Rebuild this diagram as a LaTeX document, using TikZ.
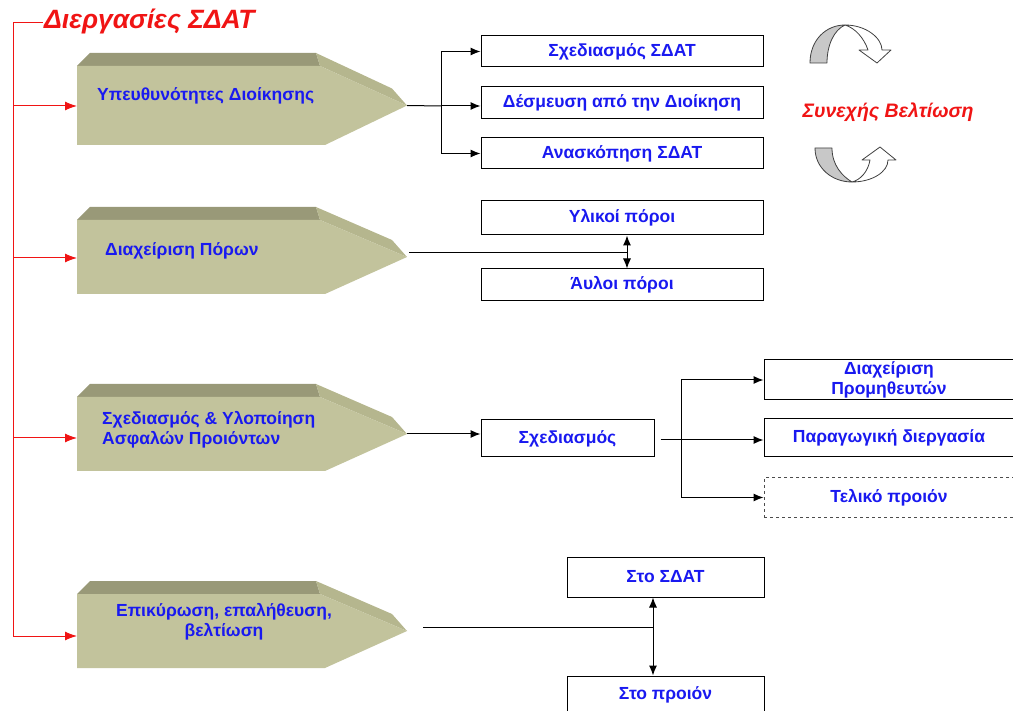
\documentclass[tikz,border=0pt]{standalone}
\usepackage{fontspec}
\setmainfont{Liberation Sans}
\usetikzlibrary{arrows.meta}

\definecolor{frontc}{RGB}{194,195,156}
\definecolor{topc}{RGB}{153,153,120}
\definecolor{sidec}{RGB}{181,182,142}
\definecolor{txtblue}{RGB}{25,25,240}
\definecolor{redc}{RGB}{240,20,20}
\definecolor{ribbon}{RGB}{200,200,200}

% one bevelled process block: name, top y, bottom y, y of the incoming red arrow
\newcommand\procbox[4]{%
  \pgfmathsetmacro\pbT{#2}\pgfmathsetmacro\pbB{#3}%
  \pgfmathsetmacro\pbM{(#2+#3)/2}%
  \pgfmathsetmacro\pbU{#2-13}\pgfmathsetmacro\pbS{\pbM-17}%
  \fill[topc] (77,\pbT) -- (90,\pbU) -- (316,\pbU) -- (320,\pbT) -- cycle;
  \fill[sidec] (316,\pbU) -- (392,\pbS) -- (407,\pbM) -- (320,\pbT) -- cycle;
  \fill[frontc] (77,\pbT) -- (320,\pbT) -- (407,\pbM) -- (325,\pbB) -- (77,\pbB) -- cycle;
  \coordinate (#1tip) at (407,\pbM);
  \coordinate (#1in) at (77,#4);
}

\tikzset{
  txt/.style={font=\bfseries\fontsize{17.5}{20}\selectfont, text=txtblue, inner sep=0pt},
  rbox/.style={txt, draw=black, line width=1pt, fill=white, align=center},
  dbox/.style={rbox, draw=black!70, dashed},
  conn/.style={draw=black, line width=1pt},
  arr/.style={conn, -{Latex[length=10pt,width=8pt]}},
  dblarr/.style={conn, {Latex[length=10pt,width=8pt]}-{Latex[length=10pt,width=8pt]}},
  redline/.style={draw=redc, line width=1pt},
  redarr/.style={redline, -{Latex[length=12pt,width=9pt]}},
  redtitle/.style={text=redc, inner sep=0pt, font=\bfseries\itshape},
  curv/.style={draw=black!75, line width=0.8pt, line join=round},
}

\begin{document}
\begin{tikzpicture}[x=1pt, y=-1pt]
\useasboundingbox (0,0) rectangle (1013,711);

% red spine and title
\coordinate (spTop) at (13,23);
\coordinate (spBot) at (13,636);
\coordinate (titleL) at (43,23);
\draw[redline] (spBot) -- (spTop) -- (titleL);
\node[redtitle, anchor=west, font=\bfseries\itshape\fontsize{26.5}{28}\selectfont] (title) at (44,21) {Διεργασίες ΣΔΑΤ};

% process blocks
\procbox{b1}{66}{145}{106}
\procbox{b2}{220}{294}{258}
\procbox{b3}{397}{471}{438}
\procbox{b4}{594}{668}{636}

\foreach \b in {b1,b2,b3,b4} \draw[redarr] (spTop |- \b in) -- (\b in);

\node[txt, anchor=west] (p1) at (97,96) {Υπευθυνότητες Διοίκησης};
\node[txt, anchor=west] (p2) at (105,251) {Διαχείριση Πόρων};
\node[txt, anchor=west, align=left] (p3) at (102,430) {Σχεδιασμός \& Υλοποίηση\\Ασφαλών Προιόντων};
\node[txt, align=center] (p4) at (224,622) {Επικύρωση, επαλήθευση,\\βελτίωση};

% management responsibilities
\node[rbox, minimum width=282pt, minimum height=31pt] (r1) at (622,51.5) {Σχεδιασμός ΣΔΑΤ};
\node[rbox, minimum width=282pt, minimum height=32pt] (r2) at (622,103) {Δέσμευση από την Διοίκηση};
\node[rbox, minimum width=282pt, minimum height=31pt] (r3) at (622,153.5) {Ανασκόπηση ΣΔΑΤ};
\coordinate (j1) at (441,106);
\draw[conn] (b1tip) -- (j1);
\draw[arr] (j1) |- (r1.west);
\draw[arr] (j1) -- (j1 -| r2.west);
\draw[arr] (j1) |- (r3.west);

% continual improvement
\node[redtitle, font=\bfseries\itshape\fontsize{19.5}{21}\selectfont] (ci) at (888,112) {Συνεχής Βελτίωση};
\filldraw[curv, fill=ribbon] (810,63) .. controls (810,40) and (826,25) .. (845,25)
  .. controls (834,30) and (827,45) .. (827,63) -- cycle;
\filldraw[curv, fill=white] (845,25) .. controls (866,25) and (882,38) .. (882,50)
  -- (891,50) -- (877,63) -- (859,50) -- (868,50)
  .. controls (864,38) and (855,28) .. (845,25) -- cycle;
\filldraw[curv, fill=ribbon] (815,148) .. controls (815,168) and (832,182) .. (852,182)
  .. controls (842,176) and (832,165) .. (832,148) -- cycle;
\filldraw[curv, fill=white] (852,182) .. controls (872,182) and (888,172) .. (888,160)
  -- (896,160) -- (880,147) -- (862,160) -- (870,160)
  .. controls (868,172) and (860,180) .. (852,182) -- cycle;

% resources
\node[rbox, minimum width=282pt, minimum height=34pt] (r4) at (622,218) {Υλικοί πόροι};
\node[rbox, minimum width=282pt, minimum height=32pt] (r5) at (622,285) {Άυλοι πόροι};
\coordinate (c2) at (409,253);
\coordinate (j2) at (627,253);
\draw[conn] (c2) -- (j2);
\draw[dblarr] (r4.south -| j2) -- (r5.north -| j2);

% design and realisation
\node[rbox, minimum width=173pt, minimum height=37pt] (s1) at (567.5,438.5) {Σχεδιασμός};
\draw[arr] (b3tip) -- (b3tip -| s1.west);
\node[rbox, minimum width=250pt, minimum height=40pt] (t1) at (889,380) {Διαχείριση\\Προμηθευτών};
\node[rbox, minimum width=250pt, minimum height=38pt] (t2) at (889,438) {Παραγωγική διεργασία};
\node[dbox, minimum width=250pt, minimum height=39pt] (t3) at (889,497.5) {Τελικό προιόν};
\coordinate (j3) at (681,440);
\draw[conn] ([xshift=6pt]s1.east |- j3) -- (j3);
\draw[arr] (j3) |- (t1.west);
\draw[arr] (j3) -- (j3 -| t2.west);
\draw[arr] (j3) |- (t3.west);

% validation, verification, improvement
\node[rbox, minimum width=197pt, minimum height=40pt] (u1) at (665.5,577) {Στο ΣΔΑΤ};
\node[rbox, minimum width=197pt, minimum height=48pt] (u2) at (665.5,700) {};
\node[txt] (u2t) at (665.5,695) {Στο προιόν};
\coordinate (c4) at (423,627);
\coordinate (j4) at (653,627);
\draw[conn] (c4) -- (j4);
\draw[dblarr] (u1.south -| j4) -- (u2.north -| j4);
\end{tikzpicture}
\end{document}
